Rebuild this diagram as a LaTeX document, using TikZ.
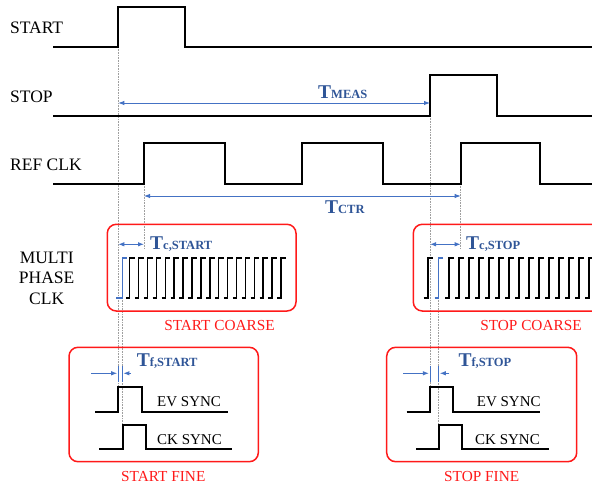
\documentclass[tikz,border=0pt]{standalone}
\usepackage{fontspec}
\setmainfont{Liberation Serif}
\usetikzlibrary{arrows.meta}
\definecolor{dimblue}{RGB}{47,85,151}
\definecolor{lineblue}{RGB}{68,114,196}
\definecolor{boxred}{RGB}{255,25,25}
\newcommand{\tname}[2]{{\fontsize{19.5}{20}\selectfont\bfseries #1}{\fontsize{12.5}{13}\selectfont\bfseries #2}}

\begin{document}
\begin{tikzpicture}[x=1pt,y=-1pt,
    sig/.style={black, line width=1.8pt},
    phase/.style={black, line width=1.5pt},
    bluephase/.style={lineblue, line width=1.5pt},
    guide/.style={gray!75, densely dotted, line width=0.6pt},
    dim/.style={lineblue, line width=0.9pt, {Latex[length=6pt,width=4.5pt]}-{Latex[length=6pt,width=4.5pt]}},
    dimin/.style={lineblue, line width=0.9pt, -{Latex[length=6pt,width=4.5pt]}},
    tick/.style={lineblue, line width=0.9pt},
    redbox/.style={boxred, line width=1.5pt, rounded corners=9pt},
    sigtext/.style={font=\fontsize{17.5}{20.5}\selectfont, inner sep=0pt},
    redtext/.style={boxred, font=\fontsize{15.3}{17}\selectfont, inner sep=0pt, anchor=base},
    synctext/.style={font=\fontsize{15}{17}\selectfont, inner sep=0pt, anchor=base west},
    dimtext/.style={dimblue, inner sep=0pt, anchor=base west}]
    \clip (0,0) rectangle (592,489);
    % Guides
    \draw[guide] (118.3,47) -- (118.3,387.3);
    \draw[guide] (122.3,258) -- (122.3,425);
    \draw[guide] (144,184) -- (144,249);
    \draw[guide] (430,116) -- (430,387.3);
    \draw[guide] (438.7,258) -- (438.7,425);
    \draw[guide] (460.7,184) -- (460.7,249);
    % Signal names
    \node[sigtext, anchor=base west] (startname) at (10,33.3) {START};
    \node[sigtext, anchor=base west] (stopname) at (10,102.7) {STOP};
    \node[sigtext, anchor=base west] (refname) at (10,170.7) {REF CLK};
    \node[sigtext, anchor=north, align=center] (mpname) at (46.7,251.7) {MULTI\\PHASE\\CLK};
    % Waveforms
    \draw[sig] (53,47) -- (118.3,47) -- (118.3,7) -- (184.7,7) -- (184.7,47) -- (592,47);
    \draw[sig] (53,116) -- (430,116) -- (430,75) -- (497.3,75) -- (497.3,116) -- (592,116);
    \draw[sig] (53,184) -- (144,184) -- (144,143) -- (224.7,143) -- (224.7,184)
        -- (302.3,184) -- (302.3,143) -- (382.7,143) -- (382.7,184)
        -- (460.7,184) -- (460.7,143) -- (540.3,143) -- (540.3,184) -- (592,184);
    % T meas and T ctr
    \coordinate (measA) at (118.3,103);
    \coordinate (measB) at (430,103);
    \draw[dim] (measA) -- (measB);
    \node[dimtext] (tmeas) at (318,98.3) {\tname{T}{MEAS}};
    \coordinate (ctrA) at (144,196);
    \coordinate (ctrB) at (460.7,196);
    \draw[dim] (ctrA) -- (ctrB);
    \node[dimtext] (tctr) at (325,214) {\tname{T}{CTR}};
    % Start coarse
    \draw[redbox] (107.3,224.3) rectangle (296,311);
    \node[redtext] (startcoarse) at (219.5,330.7) {START COARSE};
    \draw[bluephase] (116,298) -- (122.3,298) -- (122.3,258) -- (126.5,258);
    \foreach \i in {0,...,17}
        \draw[phase] ({126+8.9*\i},298) -- ++(3.7,0) -- ++(0,-40) -- ++(5,0);
    \coordinate (tcsA) at (118.3,244.3);
    \coordinate (tcsB) at (144,244.3);
    \draw[dim] (tcsA) -- (tcsB);
    \node[dimtext] (tcstart) at (150,249.3) {\tname{T}{c,START}};
    % Stop coarse
    \draw[redbox] (413.3,224.3) rectangle (610,311);
    \node[redtext] (stopcoarse) at (531,330.7) {STOP COARSE};
    \draw[phase] (423.5,298) -- (428.2,298) -- (428.2,258) -- (433.2,258);
    \draw[bluephase] (434.5,298) -- (438.7,298) -- (438.7,258) -- (443,258);
    \foreach \i in {0,...,14}
        \draw[phase] ({445.3+10*\i},298) -- ++(3.7,0) -- ++(0,-40) -- ++(5,0);
    \coordinate (tcpA) at (430,244.3);
    \coordinate (tcpB) at (460.7,244.3);
    \draw[dim] (tcpA) -- (tcpB);
    \node[dimtext] (tcstop) at (466,249.3) {\tname{T}{c,STOP}};
    % Start fine
    \draw[redbox] (69,347.3) rectangle (258.3,461.7);
    \node[redtext] (startfine) at (163.3,481.7) {START FINE};
    \draw[sig] (95,411.7) -- (118.3,411.7) -- (118.3,387.3) -- (141.7,387.3) -- (141.7,411.7) -- (228.3,411.7);
    \draw[sig] (99,449.3) -- (122.7,449.3) -- (122.7,425) -- (145.7,425) -- (145.7,449.3) -- (232.3,449.3);
    \node[synctext] (evstart) at (157,406.7) {EV SYNC};
    \node[synctext] (ckstart) at (157,444) {CK SYNC};
    \draw[tick] (118.3,366) -- (118.3,382);
    \draw[tick] (122.3,366) -- (122.3,382);
    \coordinate (tfsA) at (91,373.3);
    \coordinate (tfsB) at (117.2,373.3);
    \coordinate (tfsC) at (131,373.3);
    \coordinate (tfsD) at (123.4,373.3);
    \draw[dimin] (tfsA) -- (tfsB);
    \draw[dimin] (tfsC) -- (tfsD);
    \node[dimtext] (tfstart) at (136.7,366.7) {\tname{T}{f,START}};
    % Stop fine
    \draw[redbox] (386.7,347.3) rectangle (576.7,461.7);
    \node[redtext] (stopfine) at (481.7,481.7) {STOP FINE};
    \draw[sig] (406.7,411.7) -- (430,411.7) -- (430,387.3) -- (453.3,387.3) -- (453.3,411.7) -- (540,411.7);
    \draw[sig] (416,449.3) -- (438.7,449.3) -- (438.7,425) -- (462.3,425) -- (462.3,449.3) -- (549.3,449.3);
    \node[synctext] (evstop) at (476.7,406.7) {EV SYNC};
    \node[synctext] (ckstop) at (475,444) {CK SYNC};
    \draw[tick] (430,366) -- (430,382);
    \draw[tick] (438.7,366) -- (438.7,382);
    \coordinate (tfpA) at (403.3,373.3);
    \coordinate (tfpB) at (428.9,373.3);
    \coordinate (tfpC) at (449.3,373.3);
    \coordinate (tfpD) at (439.8,373.3);
    \draw[dimin] (tfpA) -- (tfpB);
    \draw[dimin] (tfpC) -- (tfpD);
    \node[dimtext] (tfstop) at (458.3,366.7) {\tname{T}{f,STOP}};
\end{tikzpicture}
\end{document}
